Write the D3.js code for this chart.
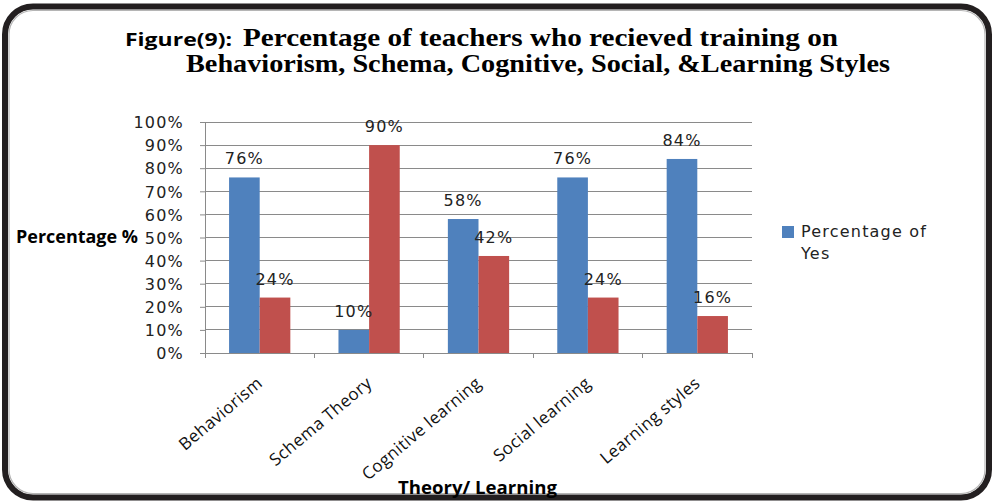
<!DOCTYPE html>
<html lang="en">
<head>
<meta charset="UTF-8">
<title>Figure(9)</title>
<script src="https://d3js.org/d3.v7.min.js"></script>
<style>
  body { margin: 0; background: #fff; }
  svg { display: block; }
  .tick-label, .value-label, .legend-text {
    font-family: "DejaVu Sans", Verdana, sans-serif;
    font-size: 16px;
    letter-spacing: 1.2px;
    fill: #222;
  }
  .cat-label {
    font-family: "Open Sans", "Liberation Sans", sans-serif;
    font-size: 17px;
    letter-spacing: 0.4px;
    fill: #111;
  }
  .axis-title {
    font-family: "Open Sans", "Liberation Sans", sans-serif;
    font-weight: bold;
    font-size: 17px;
    fill: #000;
  }
  .title-main {
    font-family: "Liberation Serif", "DejaVu Serif", serif;
    font-weight: bold;
    font-size: 25px;
    fill: #000;
  }
  .title-fig {
    font-family: "Open Sans", "Liberation Sans", sans-serif;
    font-weight: bold;
    font-size: 17px;
    fill: #000;
  }
</style>
</head>
<body>
<script>
// data
const categories = ["Behaviorism", "Schema Theory", "Cognitive learning", "Social learning", "Learning styles"];
const seriesNames = ["Percentage of Yes", "Percentage of No"];
const yesValues = [0.76, 0.10, 0.58, 0.76, 0.84];
const noValues  = [0.24, 0.90, 0.42, 0.24, 0.16];
const yTicks = [0, 0.1, 0.2, 0.3, 0.4, 0.5, 0.6, 0.7, 0.8, 0.9, 1.0];
const colors = ["#4F81BD", "#C0504D"];

const W = 994, H = 501;
const plot = {left: 205, right: 752, top: 122, bottom: 353};

const svg = d3.select("body").append("svg")
    .attr("width", W)
    .attr("height", H);

// outer frame (rounded, dark with thin grey inner line)
svg.append("rect")
    .attr("x", 5).attr("y", 6.5)
    .attr("width", 984).attr("height", 491)
    .attr("rx", 28).attr("ry", 28)
    .attr("fill", "#fff")
    .attr("stroke", "#231f20")
    .attr("stroke-width", 6);
svg.append("rect")
    .attr("x", 9).attr("y", 10.5)
    .attr("width", 976).attr("height", 483)
    .attr("rx", 24).attr("ry", 24)
    .attr("fill", "none")
    .attr("stroke", "#b5b5b5")
    .attr("stroke-width", 1.2);

// title
svg.append("text").attr("class", "title-fig")
    .attr("x", 125).attr("y", 46)
    .attr("textLength", 107).attr("lengthAdjust", "spacingAndGlyphs")
    .text("Figure(9):");
svg.append("text").attr("class", "title-main")
    .attr("x", 243).attr("y", 46)
    .attr("textLength", 595).attr("lengthAdjust", "spacingAndGlyphs")
    .text("Percentage of teachers who recieved training on");
svg.append("text").attr("class", "title-main")
    .attr("x", 186).attr("y", 72)
    .attr("textLength", 704).attr("lengthAdjust", "spacingAndGlyphs")
    .text("Behaviorism, Schema, Cognitive, Social, &Learning Styles");

// scales
const x0 = d3.scaleBand()
    .domain(categories)
    .range([plot.left, plot.right])
    .paddingInner(0.44)
    .paddingOuter(0.22);
const x1 = d3.scaleBand()
    .domain(seriesNames)
    .range([0, x0.bandwidth()]);
const y = d3.scaleLinear()
    .domain([0, 1])
    .range([plot.bottom, plot.top]);
const fmt = d3.format(".0%");

// gridlines
svg.append("g")
  .selectAll("line")
  .data(yTicks.slice(1))
  .join("line")
    .attr("x1", plot.left).attr("x2", plot.right)
    .attr("y1", d => y(d)).attr("y2", d => y(d))
    .attr("stroke", "#8a8a8a")
    .attr("stroke-width", 1)
    .attr("shape-rendering", "crispEdges");

// y axis
const yAxis = d3.axisLeft(y).tickValues(yTicks).tickFormat(fmt).tickSize(5).tickPadding(16);
const gy = svg.append("g")
    .attr("transform", `translate(${plot.left},0)`)
    .call(yAxis);
gy.select(".domain").attr("stroke", "#8a8a8a");
gy.selectAll(".tick line").attr("stroke", "#8a8a8a");
gy.selectAll(".tick text")
    .attr("class", "tick-label")
    .attr("font-family", null).attr("font-size", null)
    .attr("dy", "0.36em");

// bars
const groups = svg.append("g")
  .selectAll("g")
  .data(categories)
  .join("g")
    .attr("transform", d => `translate(${x0(d)},0)`);

const barData = (c, i) => [
  {series: seriesNames[0], value: yesValues[i], color: colors[0]},
  {series: seriesNames[1], value: noValues[i], color: colors[1]}
];

groups.selectAll("rect")
  .data(barData)
  .join("rect")
    .attr("x", d => x1(d.series))
    .attr("y", d => y(d.value))
    .attr("width", x1.bandwidth())
    .attr("height", d => y(0) - y(d.value))
    .attr("fill", d => d.color);

groups.selectAll("text")
  .data(barData)
  .join("text")
    .attr("class", "value-label")
    .attr("x", d => x1(d.series) + x1.bandwidth() / 2)
    .attr("y", d => y(d.value) - 13)
    .attr("text-anchor", "middle")
    .text(d => fmt(d.value));

// x axis line + ticks at category boundaries
const step = x0.step();
const bounds = d3.range(categories.length + 1).map(i => plot.left + i * step);
svg.append("line")
    .attr("x1", plot.left).attr("x2", plot.right)
    .attr("y1", plot.bottom).attr("y2", plot.bottom)
    .attr("stroke", "#8a8a8a")
    .attr("shape-rendering", "crispEdges");
svg.append("g")
  .selectAll("line")
  .data(bounds)
  .join("line")
    .attr("x1", d => d).attr("x2", d => d)
    .attr("y1", plot.bottom).attr("y2", plot.bottom + 5)
    .attr("stroke", "#8a8a8a")
    .attr("shape-rendering", "crispEdges");

// category labels rotated
svg.append("g")
  .selectAll("text")
  .data(categories)
  .join("text")
    .attr("class", "cat-label")
    .attr("text-anchor", "end")
    .attr("transform", d => `translate(${x0(d) + x0.bandwidth() / 2 + 4},385) rotate(-40)`)
    .text(d => d);

// axis titles
svg.append("text").attr("class", "axis-title")
    .attr("x", 16).attr("y", 243)
    .attr("textLength", 122).attr("lengthAdjust", "spacingAndGlyphs")
    .text("Percentage %");
svg.append("text").attr("class", "axis-title")
    .attr("x", 398).attr("y", 494)
    .attr("textLength", 159).attr("lengthAdjust", "spacingAndGlyphs")
    .text("Theory/ Learning");

// legend (only the first entry is visible in the figure)
const legend = svg.append("g").attr("transform", "translate(782,226)");
legend.append("rect")
    .attr("width", 12).attr("height", 12)
    .attr("fill", colors[0]);
legend.append("text").attr("class", "legend-text")
    .attr("x", 19).attr("y", 11)
    .text("Percentage of");
legend.append("text").attr("class", "legend-text")
    .attr("x", 19).attr("y", 33)
    .text("Yes");
</script>
</body>
</html>
